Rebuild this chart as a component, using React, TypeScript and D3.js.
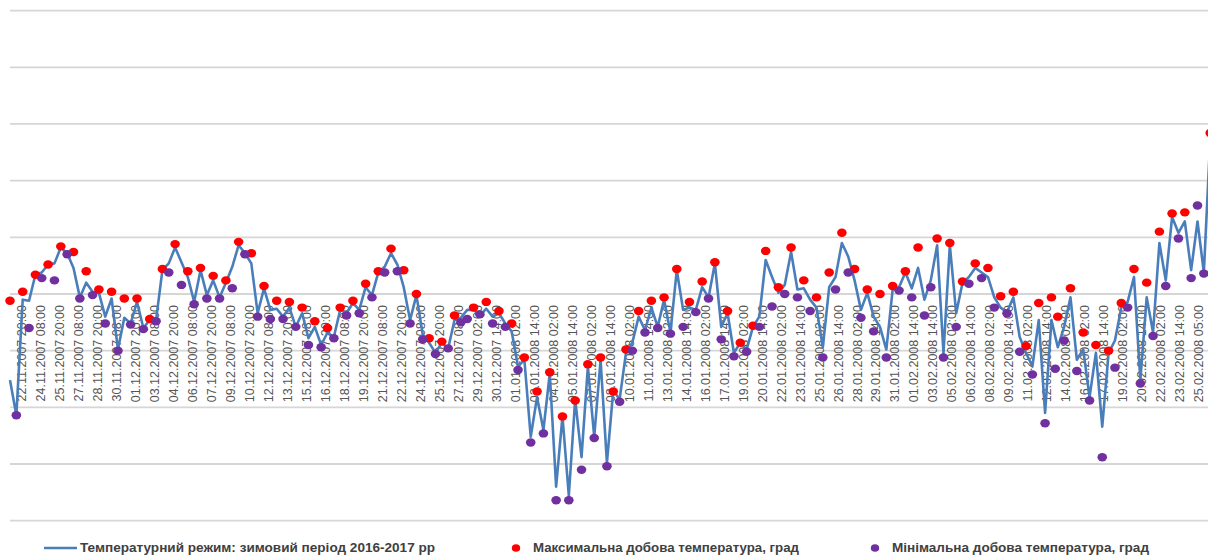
import * as d3 from "d3";

// air temperature, one reading per half-day step (°C)
const tempSeries = [
  -7.6, -10.7, -0.5, -0.6, 1.7, 1.9, 2.6, 2.7, 4.1, 3.6,
  2.3, -0.3, 1.0, 0.2, 0.1, -2.0, -0.4, -4.9, -2.1, -2.6,
  -0.7, -3.0, -2.3, -2.3, 2.1, 2.7, 4.1, 2.8, 1.5, -0.7,
  2.1, -0.1, 1.2, -0.3, 1.0, 2.4, 4.3, 3.6, 2.7, -1.7,
  0.5, -1.4, -1.3, -2.0, -1.2, -2.9, -1.7, -3.9, -2.9, -4.5,
  -3.4, -3.8, -1.4, -1.7, -0.8, -1.4, 0.6, -0.1, 1.9, 2.4,
  3.6, 2.6, 0.6, -2.3, -0.1, -3.6, -4.3, -5.2, -4.3, -4.8,
  -2.3, -2.1, -1.4, -1.4, -1.9, -1.3, -2.0, -1.7, -2.6, -3.3,
  -6.4, -5.8, -12.6, -9.1, -12.0, -7.0, -17.0, -10.8, -17.8, -9.3,
  -14.4, -6.4, -12.6, -5.8, -14.9, -8.5, -9.3, -5.2, -4.3, -2.0,
  -3.2, -1.2, -2.9, -0.5, -3.4, 2.1, -1.4, -1.2, -1.4, 0.6,
  -0.3, 2.7, -2.9, -1.7, -5.2, -4.3, -4.9, -2.9, -2.0, 3.0,
  1.5, 0.1, 0.8, 3.7, 0.4, 0.5, -0.5, -1.2, -4.7, 0.6,
  1.5, 4.5, 3.3, 1.2, -1.4, 0.1, -2.0, -2.9, -4.9, 0.4,
  0.6, 1.9, 0.5, 2.3, -0.5, 1.2, 4.3, -5.2, 4.3, -1.7,
  1.0, 1.5, 2.3, 1.9, 1.5, -0.3, -1.2, -1.6, -0.3, -3.8,
  -5.2, -6.4, -2.3, -10.5, -2.3, -4.7, -2.9, -0.3, -5.8, -4.9,
  -9.1, -5.2, -11.7, -5.2, -4.1, -1.2, -0.7, 1.5, -7.6, -0.3,
  -3.4, 4.5, 1.2, 6.8, 5.4, 6.4, 2.1, 6.4, 1.9, 13.6,
];

// daily maximum: [step index, value]
const maxPoints: [number, number][] = [
  [0, -0.6], [2, 0.2], [4, 1.7], [6, 2.6], [8, 4.2], [10, 3.7], [12, 2.0], [14, 0.4],
  [16, 0.2], [18, -0.4], [20, -0.4], [22, -2.2], [24, 2.2], [26, 4.4], [28, 2.0], [30, 2.3],
  [32, 1.6], [34, 1.2], [36, 4.6], [38, 3.6], [40, 0.7], [42, -0.6], [44, -0.7], [46, -1.2],
  [48, -2.4], [50, -3.0], [52, -1.2], [54, -0.6], [56, 0.9], [58, 2.0], [60, 4.0], [62, 2.1],
  [64, 0], [66, -3.9], [68, -4.2], [70, -1.9], [73, -1.2], [75, -0.7], [77, -1.5], [79, -2.6],
  [81, -5.6], [83, -8.6], [85, -6.9], [87, -10.8], [89, -9.4], [91, -6.2], [93, -5.6], [95, -8.6],
  [97, -4.9], [99, -1.5], [101, -0.6], [103, -0.3], [105, 2.2], [107, -0.7], [109, 1.1], [111, 2.8],
  [113, -1.5], [115, -4.3], [117, -2.8], [119, 3.8], [121, 0.6], [123, 4.1], [125, 1.2], [127, -0.3],
  [129, 1.9], [131, 5.4], [133, 2.2], [135, 0.4], [137, 0], [139, 0.7], [141, 2.0], [143, 4.1],
  [146, 4.9], [148, 4.5], [150, 1.1], [152, 2.7], [154, 2.3], [156, -0.2], [158, 0.2], [160, -4.6],
  [162, -0.8], [164, -0.3], [165, -2.0], [167, 0.5], [169, -3.4], [171, -4.5], [173, -5.0], [175, -0.8],
  [177, 2.2], [179, 1.0], [181, 5.5], [183, 7.1], [185, 7.2], [189, 14.2],
];

// daily minimum: [step index, value]
const minPoints: [number, number][] = [
  [1, -10.7], [3, -3.0], [5, 1.4], [7, 1.2], [9, 3.5], [11, -0.4], [13, -0.1], [15, -2.6],
  [17, -5.0], [19, -2.7], [21, -3.1], [23, -2.4], [25, 1.9], [27, 0.8], [29, -0.9], [31, -0.4],
  [33, -0.4], [35, 0.5], [37, 3.5], [39, -2.0], [41, -2.2], [43, -2.2], [45, -2.9], [47, -4.5],
  [49, -4.7], [51, -3.9], [53, -1.9], [55, -1.7], [57, -0.3], [59, 1.9], [61, 2.0], [63, -2.6],
  [65, -4.0], [67, -5.3], [69, -4.8], [71, -2.5], [72, -2.2], [74, -1.8], [76, -2.6], [78, -2.9],
  [80, -6.7], [82, -13.1], [84, -12.3], [86, -18.2], [88, -18.2], [90, -15.5], [92, -12.7], [94, -15.2],
  [96, -9.5], [98, -5.0], [100, -3.4], [102, -3.0], [104, -3.5], [106, -2.9], [108, -1.6], [110, -0.4],
  [112, -4.0], [114, -5.5], [116, -5.1], [118, -2.9], [120, -1.1], [122, 0], [124, -0.3], [126, -1.5],
  [128, -5.6], [130, 0.4], [132, 1.9], [134, -2.1], [136, -3.3], [138, -5.6], [140, 0.3], [142, -0.3],
  [144, -1.9], [145, 0.6], [147, -5.6], [149, -2.9], [151, 0.9], [153, 1.4], [155, -1.2], [157, -1.7],
  [159, -5.1], [161, -7.1], [163, -11.4], [164.6, -6.6], [166, -4.1], [168, -6.8], [170, -9.4], [172, -14.4],
  [174, -6.5], [176, -1.2], [178, -7.9], [180, -3.7], [182, 0.7], [184, 4.9], [186, 1.4], [187, 7.8],
  [188, 1.8],
];

const tickLabels = [
  "22.11.2007 20:00", "24.11.2007 08:00", "25.11.2007 20:00", "27.11.2007 08:00",
  "28.11.2007 20:00", "30.11.2007 08:00", "01.12.2007 20:00", "03.12.2007 08:00",
  "04.12.2007 20:00", "06.12.2007 08:00", "07.12.2007 20:00", "09.12.2007 08:00",
  "10.12.2007 20:00", "12.12.2007 08:00", "13.12.2007 20:00", "15.12.2007 08:00",
  "16.12.2007 20:00", "18.12.2007 08:00", "19.12.2007 20:00", "21.12.2007 08:00",
  "22.12.2007 20:00", "24.12.2007 08:00", "25.12.2007 20:00", "27.12.2007 08:00",
  "29.12.2007 02:00", "30.12.2007 14:00", "01.01.2008 02:00", "02.01.2008 14:00",
  "04.01.2008 02:00", "05.01.2008 14:00", "07.01.2008 02:00", "08.01.2008 14:00",
  "10.01.2008 02:00", "11.01.2008 14:00", "13.01.2008 02:00", "14.01.2008 14:00",
  "16.01.2008 02:00", "17.01.2008 14:00", "19.01.2008 02:00", "20.01.2008 14:00",
  "22.01.2008 02:00", "23.01.2008 14:00", "25.01.2008 02:00", "26.01.2008 14:00",
  "28.01.2008 02:00", "29.01.2008 14:00", "31.01.2008 02:00", "01.02.2008 14:00",
  "03.02.2008 14:00", "05.02.2008 02:00", "06.02.2008 14:00", "08.02.2008 02:00",
  "09.02.2008 14:00", "11.02.2008 02:00", "12.02.2008 14:00", "14.02.2008 02:00",
  "16.02.2008 02:00", "17.02.2008 14:00", "19.02.2008 02:00", "20.02.2008 14:00",
  "22.02.2008 02:00", "23.02.2008 14:00", "25.02.2008 05:00",
];

const gridValues = [25, 20, 15, 10, 5, 0, -5, -10, -15, -20];

const legendItems = [
  { label: "Температурний режим: зимовий період 2016-2017 рр", kind: "line", color: "#4A7EBB" },
  { label: "Максимальна добова температура, град", kind: "dot", color: "#FF0000" },
  { label: "Мінімальна добова температура, град", kind: "dot", color: "#7030A0" },
];

const WIDTH = 1208;
const HEIGHT = 556;

export default function App() {
  const x = d3.scaleLinear().domain([0, 189]).range([10, 1210.2]);
  const y = d3.scaleLinear().domain([-20, 25]).range([520.7, 10.6]);

  const linePath = d3
    .line<number>()
    .x((_, i) => x(i))
    .y((d) => y(d))(tempSeries);

  // legend positions (picture layout)
  const legendX = [44, 516, 875];
  const legendTextLen = [355, 266, 257];
  const legendY = 548;

  return (
    <svg
      width={WIDTH}
      height={HEIGHT}
      style={{ position: "absolute", left: 0, top: 0, background: "#fff" }}
      fontFamily="'Liberation Sans', Arial, sans-serif"
    >
      {gridValues.map((v) => (
        <line key={v} x1={10} x2={WIDTH} y1={y(v)} y2={y(v)} stroke="#D6D6D6" strokeWidth={1.8} />
      ))}

      {tickLabels.map((t, k) => {
        // category labels, one every three half-day steps
        const lx = x(1.84 + 2.99 * k);
        const ly = y(0) + 11;
        return (
          <text
            key={t + k}
            transform={`translate(${lx},${ly}) rotate(-90)`}
            textAnchor="end"
            dy="0.35em"
            fontSize={12.5}
            fill="#555555"
          >
            {t}
          </text>
        );
      })}

      <path d={linePath ?? ""} fill="none" stroke="#4A7EBB" strokeWidth={2.6} strokeLinejoin="round" />

      {maxPoints.map(([i, v], k) => (
        <ellipse key={"mx" + k} cx={x(i)} cy={y(v)} rx={4.8} ry={4.2} fill="#FF0000" />
      ))}
      {minPoints.map(([i, v], k) => (
        <ellipse key={"mn" + k} cx={x(i)} cy={y(v)} rx={4.8} ry={4.2} fill="#7030A0" />
      ))}

      {legendItems.map((item, k) => (
        <g key={item.label}>
          {item.kind === "line" ? (
            <line x1={legendX[k]} x2={legendX[k] + 33} y1={legendY} y2={legendY} stroke={item.color} strokeWidth={2.5} />
          ) : (
            <ellipse cx={legendX[k]} cy={legendY} rx={4.2} ry={3.8} fill={item.color} />
          )}
          <text
            x={item.kind === "line" ? legendX[k] + 36 : legendX[k] + 17}
            y={legendY}
            dy="0.35em"
            fontSize={12}
            fontWeight="bold"
            fill="#404040"
            textLength={legendTextLen[k]}
            lengthAdjust="spacingAndGlyphs"
          >
            {item.label}
          </text>
        </g>
      ))}
    </svg>
  );
}
